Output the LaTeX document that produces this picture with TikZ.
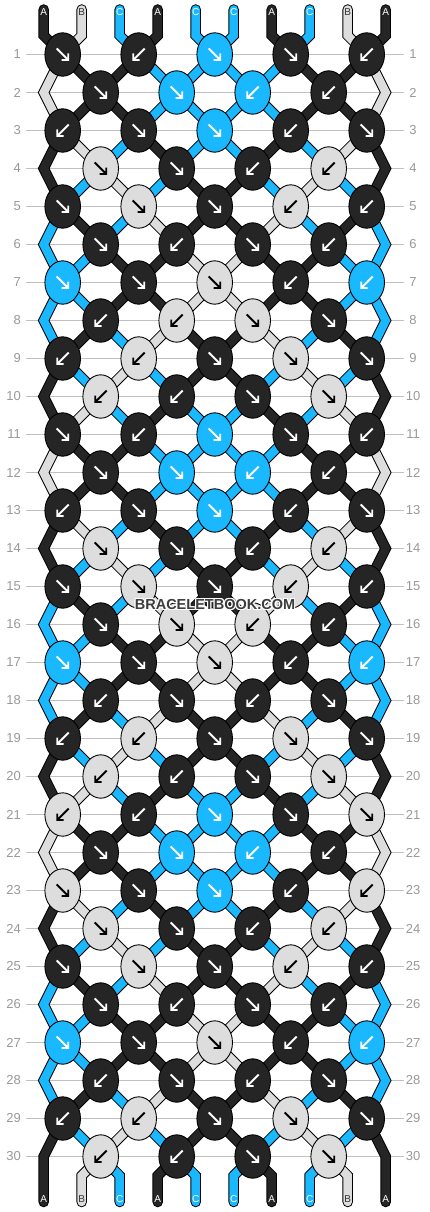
\documentclass[tikz,border=0pt]{standalone}
\usepackage{fontspec}
\setmainfont{Liberation Sans}
\usetikzlibrary{shapes.geometric}
\definecolor{cA}{HTML}{252525}
\definecolor{cB}{HTML}{DDDDDD}
\definecolor{cC}{HTML}{1AB8FF}
\definecolor{gridc}{HTML}{C0C0C0}
\definecolor{numc}{HTML}{999999}
\definecolor{wmc}{HTML}{3C3C3C}
\pgfdeclarelayer{gridlayer}
\pgfdeclarelayer{strlayer}
\pgfsetlayers{gridlayer,strlayer,main}
\newcount\spos \newcount\srow \newcount\sj
\def\buildstring#1{%
  \spos=#1\relax
  \edef\spath{(ts-#1) -- (tc-#1)}%
  \srow=1
  \loop
    \ifodd\srow
      \ifodd\spos \sj=\numexpr(\spos+1)/2\relax \advance\spos by 1
      \else \sj=\numexpr\spos/2\relax \advance\spos by -1 \fi
      \edef\spath{\spath -- (k-\the\srow-\the\sj.center)}%
    \else
      \ifnum\spos=1 \edef\spath{\spath -- (eL-\the\srow)}%
      \else\ifnum\spos=10 \edef\spath{\spath -- (eR-\the\srow)}%
      \else
        \ifodd\spos \sj=\numexpr(\spos-1)/2\relax \advance\spos by -1
        \else \sj=\numexpr\spos/2\relax \advance\spos by 1 \fi
        \edef\spath{\spath -- (k-\the\srow-\the\sj.center)}%
      \fi\fi
    \fi
    \advance\srow by 1
  \ifnum\srow<31 \repeat
  \edef\spath{\spath -- (bc-\the\spos) -- (bs-\the\spos)}%
}
\def\scolor#1{\ifcase#1\or cA\or cB\or cC\or cA\or cC\or cC\or cA\or cC\or cB\or cA\fi}
\def\lblcolor#1{\ifcase#1\or white\or black!80\or white\or white\or white\or white\or white\or white\or black!80\or white\fi}
\def\slabel#1{\ifcase#1\or A\or B\or C\or A\or C\or C\or A\or C\or B\or A\fi}
\def\dxR{1}\def\dxL{-1}
\def\acolA{white}\def\acolB{black}\def\acolC{white}
\def\drawstr#1#2#3{\draw[line width=#2, draw=#3, line join=miter, line cap=round] #1;}
\tikzset{
  knot/.style={ellipse, draw=black, line width=0.9pt, minimum width=35.6pt, minimum height=43.4pt, inner sep=0pt, outer sep=0pt},
  knotarrow/.style={line width=1.9pt, line join=miter},
  rownum/.style={text=numc, font=\fontsize{13}{13}\selectfont, inner sep=0pt},
  strlbl/.style={font=\fontsize{10}{10}\selectfont, inner sep=0pt},
  gridline/.style={draw=gridc, line width=0.9pt},
  wm/.style={font=\fontsize{14.5}{14.5}\selectfont\bfseries, inner sep=0pt},
}
\begin{document}
\begin{tikzpicture}[x=1pt,y=-1pt]
\useasboundingbox (0,0) rectangle (430,1212);
\begin{pgfonlayer}{gridlayer}
\fill[white] (0,0) rectangle (430,1212);
\foreach \r in {1,...,30}{
  \pgfmathsetmacro\ry{54.5+38*(\r-1)}
  \draw[gridline] (26,\ry) -- (404,\ry);
}
\end{pgfonlayer}
\foreach \r in {1,...,30}{
  \pgfmathsetmacro\ry{54.5+38*(\r-1)}
  \node[rownum, anchor=east] (nl-\r) at (21,\ry) {\r};
  \node[rownum] (nr-\r) at (413,\ry) {\r};
  \coordinate (eL-\r) at (43.7,\ry);
  \coordinate (eR-\r) at (385.7,\ry);
}
\foreach \p in {1,...,10}{
  \pgfmathsetmacro\px{43.7+38*(\p-1)}
  \coordinate (ts-\p) at (\px,9.5);
  \coordinate (tc-\p) at (\px,35.5);
  \coordinate (bc-\p) at (\px,1175.7);
  \coordinate (bs-\p) at (\px,1202);
  \edef\lc{\lblcolor{\p}}
  \node[strlbl, text=\lc] (tl-\p) at (\px,12.5) {\slabel{\p}};
  \node[strlbl, text=\lc] (bl-\p) at (\px,1199.5) {\slabel{\p}};
}
\foreach \r/\lst in {1/{A/R,A/L,C/R,A/R,A/L},2/{A/R,C/R,C/L,A/L},3/{A/L,A/R,C/R,A/L,A/R},4/{B/R,A/R,A/L,B/L},5/{A/R,B/R,A/R,B/L,A/L},6/{A/R,A/L,A/R,A/L},7/{C/R,A/R,B/R,A/L,C/L},8/{A/L,B/L,B/R,A/R},9/{A/L,B/L,A/R,B/R,A/R},10/{B/L,A/L,A/R,B/R},11/{A/R,A/L,C/R,A/R,A/L},12/{A/R,C/R,C/L,A/L},13/{A/L,A/R,C/R,A/L,A/R},14/{B/R,A/R,A/L,B/L},15/{A/R,B/R,A/R,B/L,A/L},16/{A/R,B/R,B/L,A/L},17/{C/R,A/R,B/R,A/L,C/L},18/{A/L,A/R,A/L,A/R},19/{A/L,B/L,A/R,B/R,A/R},20/{B/L,A/L,A/R,B/R},21/{B/L,A/L,C/R,A/R,B/R},22/{A/R,C/R,C/L,A/L},23/{B/R,A/R,C/R,A/L,B/L},24/{B/R,A/R,A/L,B/L},25/{A/R,B/R,A/R,B/L,A/L},26/{A/R,A/L,A/R,A/L},27/{C/R,A/R,B/R,A/L,C/L},28/{A/L,A/R,A/L,A/R},29/{A/L,B/L,A/R,B/R,A/R},30/{B/L,A/L,A/R,B/R}}{
  \foreach \c/\d [count=\j] in \lst {
    \pgfmathsetmacro\kx{62.7+76*(\j-1)+38*(1-mod(\r,2))}
    \pgfmathsetmacro\ky{54.5+38*(\r-1)}
    \edef\ac{\csname acol\c\endcsname}
    \edef\sx{\csname dx\d\endcsname}
    \node[knot, fill=c\c] (k-\r-\j) at (\kx,\ky) {};
    \begin{scope}[shift={(\kx,\ky)}, xscale=\sx]
      \draw[knotarrow, draw=\ac] (-6,-6) -- (5.5,5.5) (5.5,-1) -- (5.5,5.5) -- (-1,5.5);
    \end{scope}
  }
}
\begin{pgfonlayer}{strlayer}
\foreach \s in {1,...,10}{
  \buildstring{\s}
  \expandafter\drawstr\expandafter{\spath}{10.5pt}{black}
}
\foreach \s in {1,...,10}{
  \buildstring{\s}
  \edef\sc{\scolor{\s}}
  \expandafter\drawstr\expandafter{\spath}{8.5pt}{\sc}
}
\end{pgfonlayer}
\foreach \dx/\dy [count=\i] in {1/0,-1/0,0/1,0/-1,1/1,1/-1,-1/1,-1/-1}{
  \node[wm, text=white] (wmh-\i) at (215+\dx,605+\dy) {BRACELETBOOK.COM};
}
\node[wm, text=wmc] (wm) at (215,605) {BRACELETBOOK.COM};
\end{tikzpicture}
\end{document}
